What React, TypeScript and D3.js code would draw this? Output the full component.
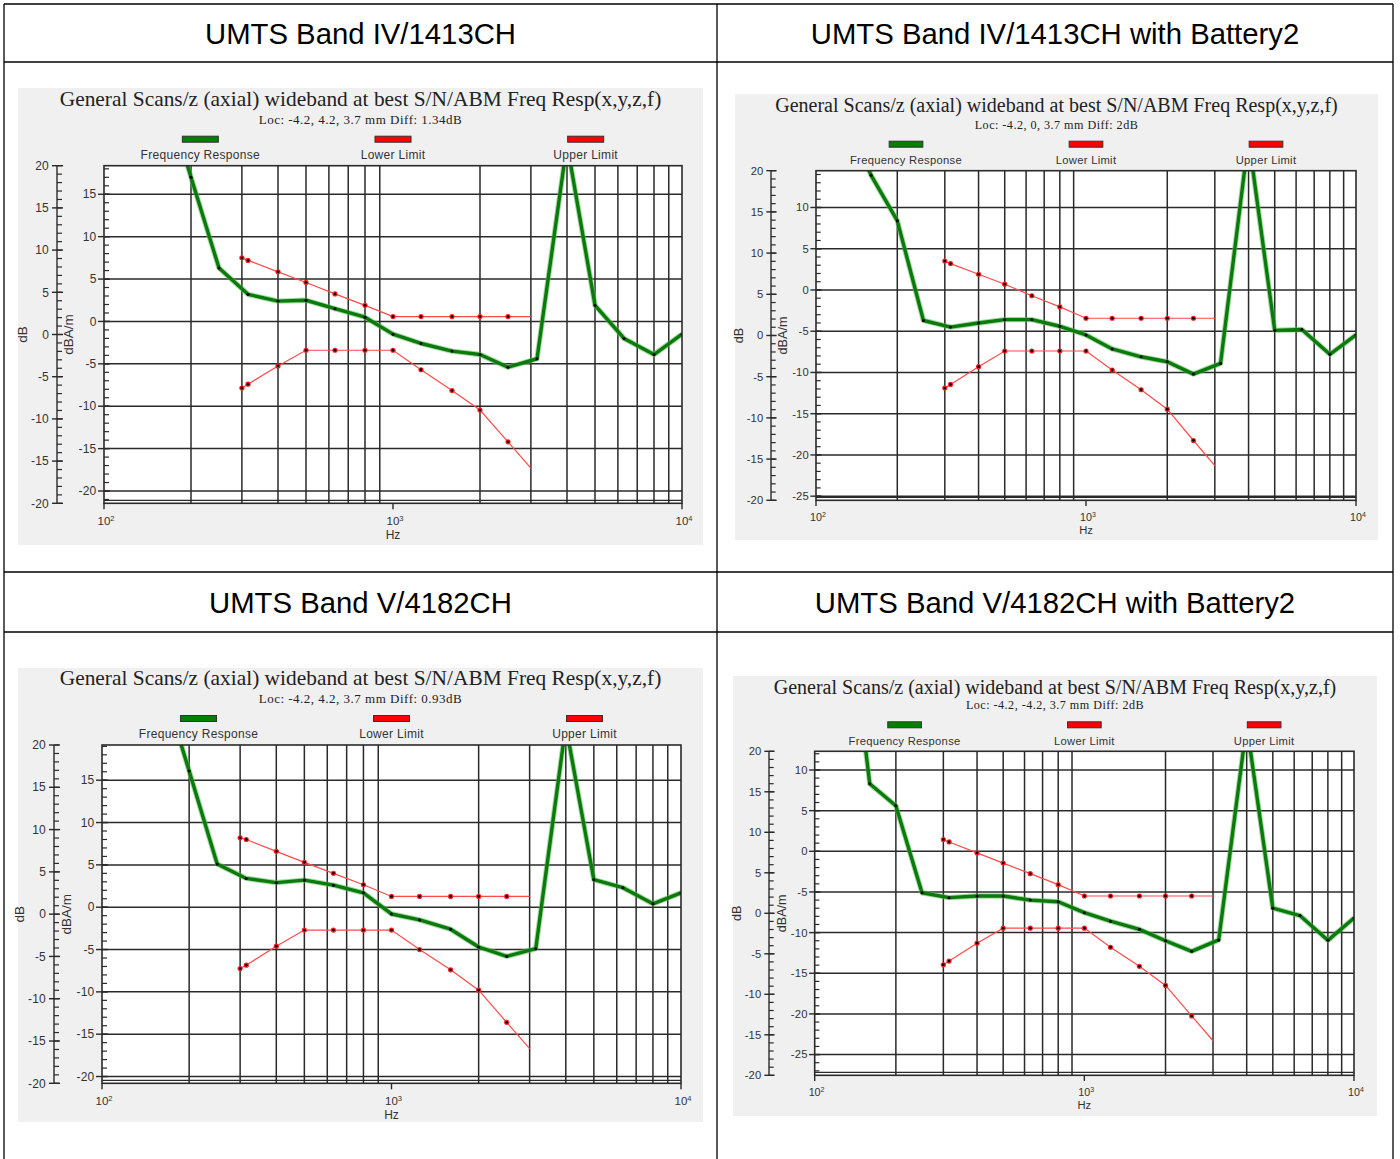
import React from "react";
import * as d3 from "d3";

const headers = [
  "UMTS Band IV/1413CH",
  "UMTS Band IV/1413CH with Battery2",
  "UMTS Band V/4182CH",
  "UMTS Band V/4182CH with Battery2",
];
const titleText = "General Scans/z (axial) wideband at best S/N/ABM Freq Resp(x,y,z,f)";
const subtitles = [
  "Loc: -4.2, 4.2, 3.7 mm Diff: 1.34dB",
  "Loc: -4.2, 0, 3.7 mm Diff: 2dB",
  "Loc: -4.2, 4.2, 3.7 mm Diff: 0.93dB",
  "Loc: -4.2, -4.2, 3.7 mm Diff: 2dB",
];
const legendLabels = ["Frequency Response", "Lower Limit", "Upper Limit"];

// third-octave frequencies of the measured response
const respFreqA = [160, 200, 250, 315, 400, 500, 630, 800, 1000, 1250, 1600, 2000, 2500, 3150, 4000, 5000, 6300, 8000, 10000];
const respFreqB = [125, 160, 200, 250, 315, 400, 500, 630, 800, 1000, 1250, 1600, 2000, 2500, 3150, 4000, 5000, 6300, 8000, 10000];
const limitFreq = [300, 315, 400, 500, 630, 800, 1000, 1250, 1600, 2000, 2500, 3000];

const resp1 = [28, 17.0, 6.3, 3.2, 2.4, 2.5, 1.5, 0.5, -1.5, -2.6, -3.5, -3.9, -5.4, -4.4, 21, 1.9, -2.0, -3.9, -1.5];
const resp2 = [22, 13.9, 8.4, -3.7, -4.5, -4.0, -3.6, -3.6, -4.4, -5.45, -7.15, -8.1, -8.7, -10.2, -8.9, 18.4, -4.9, -4.8, -7.8, -5.45];
const resp3 = [27, 16.1, 5.1, 3.4, 2.9, 3.2, 2.6, 1.7, -0.8, -1.5, -2.6, -4.7, -5.8, -4.9, 21.5, 3.25, 2.3, 0.4, 1.7];
const resp4 = [38, 8.3, 5.6, -5.1, -5.7, -5.5, -5.5, -6.0, -6.2, -7.55, -8.6, -9.6, -11.0, -12.3, -10.9, 15.6, -7.0, -7.9, -10.95, -8.2];

const upper1 = [7.5, 7.2, 5.85, 4.6, 3.25, 1.9, 0.57, 0.57, 0.57, 0.57, 0.57, 0.57];
const lower1 = [-7.85, -7.4, -5.25, -3.4, -3.4, -3.4, -3.4, -5.7, -8.15, -10.45, -14.2, -17.3];
const upper2 = [3.5, 3.2, 1.9, 0.7, -0.7, -2.05, -3.43, -3.43, -3.43, -3.43, -3.43, -3.43];
const lower2 = [-11.9, -11.45, -9.3, -7.4, -7.4, -7.4, -7.4, -9.7, -12.1, -14.45, -18.25, -21.3];
const upper3 = [8.2, 8.0, 6.6, 5.3, 4.0, 2.65, 1.27, 1.27, 1.27, 1.27, 1.27, 1.27];
const lower3 = [-7.25, -6.85, -4.6, -2.7, -2.7, -2.7, -2.7, -5.0, -7.4, -9.8, -13.6, -16.7];
const upper4 = [1.45, 1.15, -0.2, -1.45, -2.75, -4.1, -5.5, -5.5, -5.5, -5.5, -5.5, -5.5];
const lower4 = [-13.95, -13.5, -11.3, -9.45, -9.45, -9.45, -9.45, -11.8, -14.15, -16.5, -20.25, -23.3];

// dBA/m axis extents and relative dB axis extents
const axisTop = [18.37, 14.46, 19.16, 12.3];
const axisBottom = [-21.45, -25.5, -20.8, -27.55];
const dbDomain = [-20, 20];
const freqDomain = [100, 10000];

const series = [
  { freq: respFreqA, resp: resp1, upper: upper1, lower: lower1 },
  { freq: respFreqB, resp: resp2, upper: upper2, lower: lower2 },
  { freq: respFreqA, resp: resp3, upper: upper3, lower: lower3 },
  { freq: respFreqB, resp: resp4, upper: upper4, lower: lower4 },
];

// layout (pixels); k = scale of the embedded image
const layouts = [
  { panel: [18, 88, 703, 545], plot: [104, 165.7, 682, 503.3], dbX: 57, k: 1, titleOff: 59.8 },
  { panel: [735, 94, 1378, 540], plot: [816, 170.7, 1356, 500.3], dbX: 771, k: 0.935, titleOff: 59 },
  { panel: [18, 668, 703, 1122], plot: [102, 745, 681, 1083.3], dbX: 54, k: 1, titleOff: 60.5 },
  { panel: [733, 676, 1377, 1116], plot: [814.7, 751.3, 1354, 1075.3], dbX: 769, k: 0.935, titleOff: 57.8 },
];

const SANS = "'Liberation Sans', Arial, sans-serif";
const SERIF = "'Liberation Serif', 'Times New Roman', serif";
const GRID = "#2a2a2a";
const TXT = "#333";

function Chart({ idx }: { idx: number }) {
  const L = layouts[idx];
  const S = series[idx];
  const k = L.k;
  const [px0, py0, px1, py1] = L.panel;
  const [pl, pt, pr, pb] = L.plot;
  const x = d3.scaleLog().domain(freqDomain).range([pl, pr]);
  const y = d3.scaleLinear().domain([axisBottom[idx], axisTop[idx]]).range([pb, pt]);
  const yDb = d3.scaleLinear().domain(dbDomain).range([pb, pt]);
  const clipId = `clip${idx}`;

  const vGrid: number[] = [];
  [100, 1000].forEach((dec) => {
    for (let m = 2; m <= 9; m++) vGrid.push(dec * m);
  });
  const hGrid = d3.range(Math.ceil(axisBottom[idx] / 5) * 5, axisTop[idx], 5);
  const yMinor = d3.range(Math.ceil(axisBottom[idx]), Math.floor(axisTop[idx]) + 1);
  const dbMinor = d3.range(dbDomain[0], dbDomain[1] + 1, 1);
  const dbMajor = d3.range(dbDomain[0], dbDomain[1] + 1, 5);

  const line = d3
    .line<[number, number]>()
    .x((d) => x(d[0]))
    .y((d) => y(d[1]));
  const respPts: [number, number][] = S.freq.map((f, i) => [f, S.resp[i]]);
  const upPts: [number, number][] = limitFreq.map((f, i) => [f, S.upper[i]]);
  const loPts: [number, number][] = limitFreq.map((f, i) => [f, S.lower[i]]);
  const cx = (px0 + px1) / 2;
  const pw = pr - pl;
  const midY = (pt + pb) / 2;
  const legendX = [pl + pw / 6, pl + pw / 2, pl + (5 * pw) / 6];
  const legendFill = ["#008000", "#ff0000", "#ff0000"];

  return (
    <g>
      <rect x={px0} y={py0} width={px1 - px0} height={py1 - py0} fill="#f0f0f0" />
      <defs>
        <clipPath id={clipId}>
          <rect x={pl} y={pt} width={pr - pl} height={pb - pt} />
        </clipPath>
      </defs>
      <text x={cx} y={pt - L.titleOff} textAnchor="middle" fontFamily={SERIF} fontSize={21.4 * k} fill="#222">
        {titleText}
      </text>
      <text x={cx} y={pt - 42.2} textAnchor="middle" fontFamily={SERIF} fontSize={13 * k} letterSpacing={0.5 * k} fill="#222">
        {subtitles[idx]}
      </text>
      {legendLabels.map((lab, i) => (
        <g key={lab}>
          <rect x={legendX[i] - 18 * k} y={pt - 29.5} width={36 * k} height={6} fill={legendFill[i]} stroke="#333" strokeWidth={1} />
          <text x={legendX[i]} y={pt - 6.8} textAnchor="middle" fontFamily={SANS} fontSize={12 * k} letterSpacing={0.3} fill={TXT}>
            {lab}
          </text>
        </g>
      ))}
      <rect x={pl} y={pt} width={pr - pl} height={pb - pt} fill="#fff" />
      {vGrid.map((f) => (
        <line key={f} x1={x(f)} x2={x(f)} y1={pt} y2={pb} stroke={GRID} strokeWidth={1.5} />
      ))}
      {hGrid.map((v) => (
        <line key={v} x1={pl} x2={pr} y1={y(v)} y2={y(v)} stroke={GRID} strokeWidth={1.5} />
      ))}
      <line x1={pl} x2={pr} y1={pb - 3} y2={pb - 3} stroke={GRID} strokeWidth={1.2} />
      {/* dBA/m axis ticks */}
      {yMinor.map((v) => (
        <line key={v} x1={pl} x2={pl + 5 * k} y1={y(v)} y2={y(v)} stroke={GRID} strokeWidth={1.2} />
      ))}
      {hGrid.map((v) => (
        <g key={v}>
          <line x1={pl - 6 * k} x2={pl + 6 * k} y1={y(v)} y2={y(v)} stroke={GRID} strokeWidth={1.4} />
          <text x={pl - 7.5 * k} y={y(v) + 4.2 * k} textAnchor="end" fontFamily={SANS} fontSize={12 * k} letterSpacing={0.2} fill={TXT}>
            {v}
          </text>
        </g>
      ))}
      {/* dB axis */}
      <line x1={L.dbX} x2={L.dbX} y1={pt} y2={pb} stroke={GRID} strokeWidth={1.4} />
      {dbMinor.map((v) => (
        <line key={v} x1={L.dbX} x2={L.dbX + 5 * k} y1={yDb(v)} y2={yDb(v)} stroke={GRID} strokeWidth={1.2} />
      ))}
      {dbMajor.map((v) => (
        <g key={v}>
          <line x1={L.dbX - 5 * k} x2={L.dbX + 6 * k} y1={yDb(v)} y2={yDb(v)} stroke={GRID} strokeWidth={1.4} />
          <text x={L.dbX - 8 * k} y={yDb(v) + 4.2 * k} textAnchor="end" fontFamily={SANS} fontSize={12 * k} letterSpacing={0.2} fill={TXT}>
            {v}
          </text>
        </g>
      ))}
      <text transform={`translate(${L.dbX - 30 * k},${midY}) rotate(-90)`} textAnchor="middle" fontFamily={SANS} fontSize={13.5 * k} fill={TXT}>
        dB
      </text>
      <text transform={`translate(${pl - 31 * k},${midY}) rotate(-90)`} textAnchor="middle" fontFamily={SANS} fontSize={13.5 * k} fill={TXT}>
        dBA/m
      </text>
      {/* x axis */}
      {[100, 1000, 10000].map((f, i) => (
        <g key={f}>
          <line x1={x(f)} x2={x(f)} y1={pb} y2={pb + 6 * k} stroke={GRID} strokeWidth={1.4} />
          <text x={x(f) + 2 * k} y={pb + 22 * k} textAnchor="middle" fontFamily={SANS} fontSize={11.5 * k} fill={TXT}>
            10
            <tspan dy={-4 * k} fontSize={7.5 * k}>
              {i + 2}
            </tspan>
          </text>
        </g>
      ))}
      <text x={x(1000)} y={pb + 36 * k} textAnchor="middle" fontFamily={SANS} fontSize={12 * k} fill={TXT}>
        Hz
      </text>
      {/* data */}
      <g clipPath={`url(#${clipId})`}>
        <path d={line(upPts) || ""} fill="none" stroke="#ff4a4a" strokeWidth={1.2} />
        <path d={line(loPts) || ""} fill="none" stroke="#ff4a4a" strokeWidth={1.2} />
        {upPts.slice(0, -1).concat(loPts.slice(0, -1)).map((d, i) => (
          <g key={i}>
            <circle cx={x(d[0])} cy={y(d[1])} r={2.6} fill="#ff2020" />
            <circle cx={x(d[0])} cy={y(d[1])} r={1.4} fill="#000" />
          </g>
        ))}
        <path d={line(respPts) || ""} fill="none" stroke="#5cb85c" strokeOpacity={0.55} strokeWidth={5.4} strokeLinejoin="round" />
        <path d={line(respPts) || ""} fill="none" stroke="#0a7a0a" strokeWidth={3.4} strokeLinejoin="round" />
        {respPts.map((d, i) => (
          <circle key={i} cx={x(d[0])} cy={y(d[1])} r={1.5} fill="#000" />
        ))}
      </g>
      <rect x={pl} y={pt} width={pr - pl} height={pb - pt} fill="none" stroke={GRID} strokeWidth={1.6} />
    </g>
  );
}

export default function App() {
  const colX = [4, 717, 1393];
  const rowY = [4, 62, 572, 632];
  return (
    <svg width={1400} height={1159} style={{ position: "absolute", left: 0, top: 0, background: "#fff" }}>
      <rect x={0} y={0} width={1400} height={1159} fill="#fff" />
      {/* table */}
      {rowY.map((ry) => (
        <line key={ry} x1={colX[0]} x2={colX[2]} y1={ry} y2={ry} stroke="#000" strokeWidth={1.3} />
      ))}
      {colX.map((cx) => (
        <line key={cx} x1={cx} x2={cx} y1={rowY[0]} y2={1159} stroke="#000" strokeWidth={1.3} />
      ))}
      {headers.map((h, i) => {
        const c = i % 2;
        const r = Math.floor(i / 2);
        const xc = (colX[c] + colX[c + 1]) / 2;
        const yc = r === 0 ? (rowY[0] + rowY[1]) / 2 : (rowY[2] + rowY[3]) / 2;
        return (
          <text key={h} x={xc} y={yc + 10.5} textAnchor="middle" fontFamily={SANS} fontSize={29.3} fill="#000">
            {h}
          </text>
        );
      })}
      {[0, 1, 2, 3].map((i) => (
        <Chart key={i} idx={i} />
      ))}
    </svg>
  );
}
